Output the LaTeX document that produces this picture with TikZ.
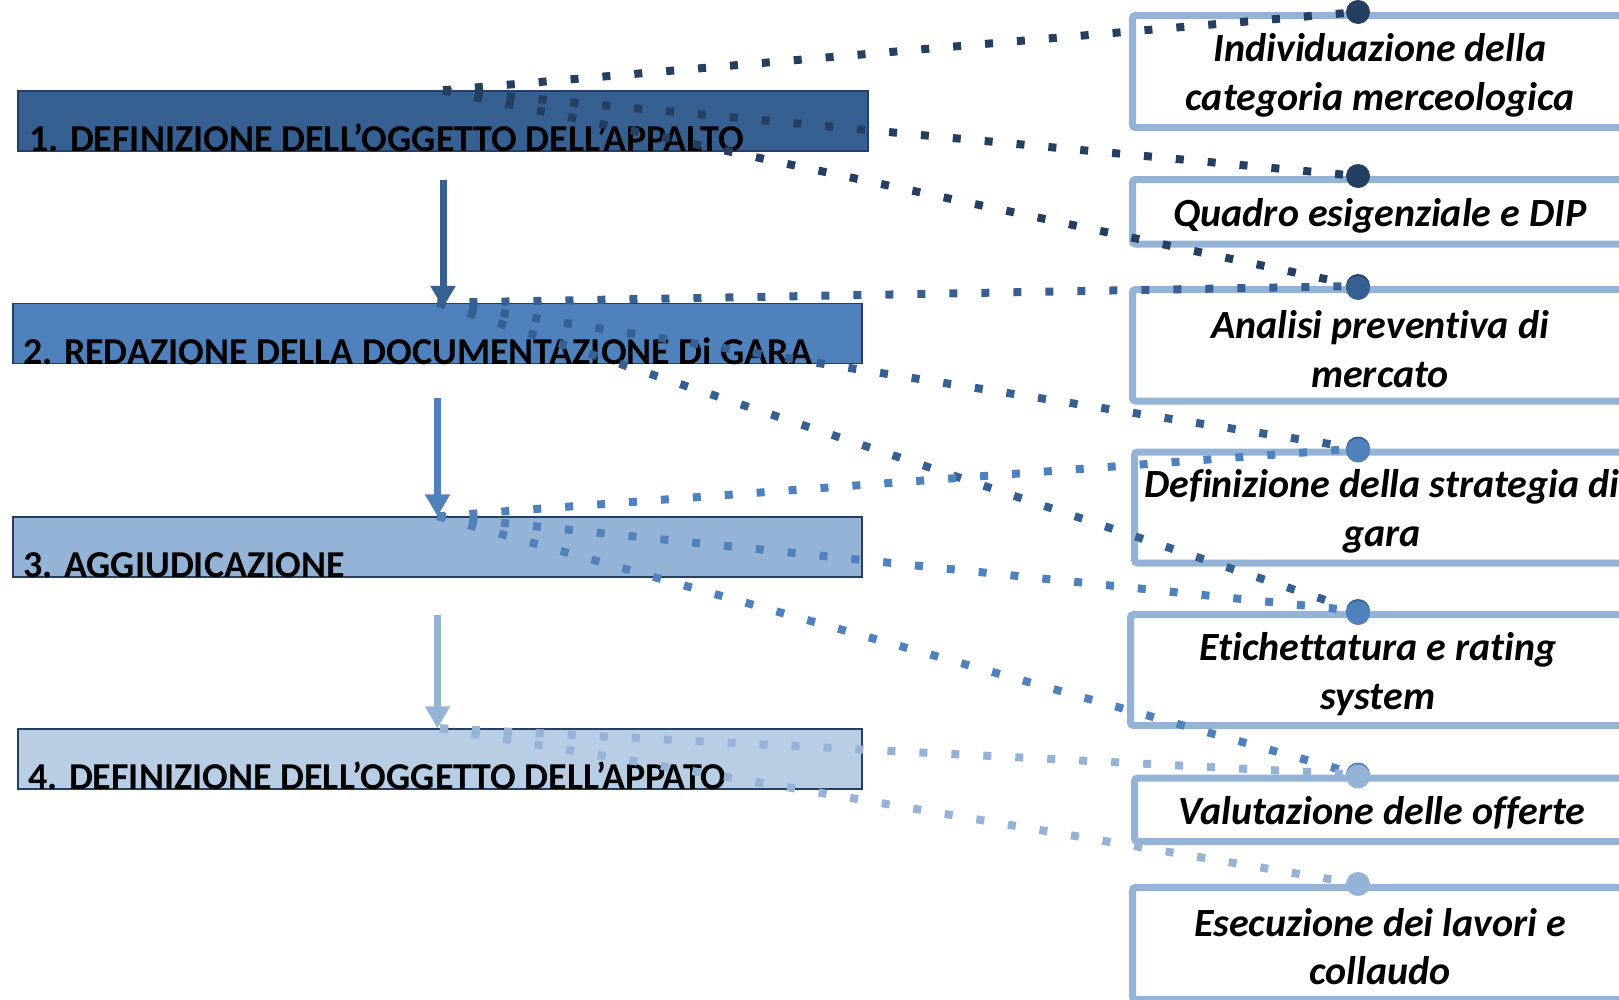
\documentclass[tikz,border=0pt]{standalone}
\usepackage{fontspec}
\setmainfont{Carlito}[Ligatures=NoCommon, RawFeature={-liga;-clig;-dlig;-calt}]
\usetikzlibrary{arrows.meta, positioning}
\definecolor{navyblue}{HTML}{243F60}
\definecolor{darkblue}{HTML}{366092}
\definecolor{midblue}{HTML}{4F81BD}
\definecolor{lightblue}{HTML}{95B3D7}
\definecolor{paleblue}{HTML}{B9CDE5}

\begin{document}
\begin{tikzpicture}[x=1pt, y=-1pt,
  phasebar/.style={draw=navyblue, line width=1.5pt, minimum height=60pt, inner sep=0pt},
  phaselabel/.style={anchor=base west, inner sep=0pt, font=\fontsize{38}{42}\selectfont\bfseries},
  taskbox/.style={draw=lightblue, line width=7pt, rounded corners=3pt, minimum width=495pt, inner sep=0pt},
  tasktext/.style={align=center, inner sep=0pt, font=\fontsize{40}{48.5}\selectfont\bfseries\itshape},
  link/.style={line width=8pt, dash pattern=on 8pt off 24pt},
  flow/.style={line width=7pt, -{Triangle[width=24pt, length=22pt]}}
]
  \useasboundingbox (0,0) rectangle (1619,999);
  \clip (0,0) rectangle (1619,999);

  % Phases on the left
  \node[phasebar, fill=darkblue, minimum width=850pt] (bar1) at (443,121) {};
  \node[phasebar, fill=midblue, minimum width=849pt] (bar2) at (437.5,333.5) {};
  \node[phasebar, fill=lightblue, minimum width=849pt] (bar3) at (437.5,547) {};
  \node[phasebar, fill=paleblue, minimum width=844pt] (bar4) at (440,759) {};
  \node[phaselabel] (lab1) at (29,151) {1. DEFINIZIONE DELL’OGGETTO DELL’APPALTO};
  \node[phaselabel] (lab2) at (23,364) {2. REDAZIONE DELLA DOCUMENTAZIONE Di GARA};
  \node[phaselabel] (lab3) at (23,577) {3. AGGIUDICAZIONE};
  \node[phaselabel] (lab4) at (28,789) {4. DEFINIZIONE DELL’OGGETTO DELL’APPATO};

  % Activities on the right
  \node[taskbox, minimum height=112pt] (task1) at (1380,71.5) {};
  \node[taskbox, minimum height=64.5pt] (task2) at (1380,211.75) {};
  \node[taskbox, minimum height=111.5pt] (task3) at (1380,345.25) {};
  \node[taskbox, minimum height=111pt] (task4) at (1382,507.5) {};
  \node[taskbox, minimum height=111pt] (task5) at (1378,670) {};
  \node[taskbox, minimum height=63.5pt] (task6) at (1382,809.75) {};
  \node[taskbox, minimum height=112pt] (task7) at (1380,943.5) {};
  \node[tasktext] (txt1) at ([yshift=-4pt]task1.center) {Individuazione della\\categoria merceologica};
  \node[tasktext] (txt2) at ([yshift=-4pt]task2.center) {Quadro esigenziale e DIP};
  \node[tasktext] (txt3) at ([yshift=-4pt]task3.center) {Analisi preventiva di\\mercato};
  \node[tasktext] (txt4) at ([yshift=-4pt]task4.center) {Definizione della strategia di\\gara};
  \node[tasktext] (txt5) at ([yshift=-4pt]task5.center) {Etichettatura e rating\\system};
  \node[tasktext] (txt6) at ([yshift=-3pt]task6.center) {Valutazione delle offerte};
  \node[tasktext] (txt7) at ([yshift=-3pt]task7.center) {Esecuzione dei lavori e\\collaudo};

  \coordinate (dot1) at ([xshift=-22pt]task1.north);
  \coordinate (dot2) at ([xshift=-22pt]task2.north);
  \coordinate (dot3) at ([xshift=-22pt]task3.north);
  \coordinate (dot4) at ([xshift=-24pt]task4.north);
  \coordinate (dot5) at ([xshift=-20pt]task5.north);
  \coordinate (dot6) at ([xshift=-24pt]task6.north);
  \coordinate (dot7) at ([xshift=-22pt]task7.north);

  % Dotted links
  \draw[link, navyblue] (bar1.north) -- (dot1);
  \draw[link, navyblue] (bar1.north) -- (dot2);
  \draw[link, navyblue] (bar1.north) -- (dot3);
  \draw[link, darkblue] (bar2.north) -- (dot3);
  \draw[link, darkblue] (bar2.north) -- (dot4);
  \draw[link, darkblue] (bar2.north) -- (dot5);
  \draw[link, midblue] (bar3.north) -- (dot4);
  \draw[link, midblue] (bar3.north) -- (dot5);
  \draw[link, midblue] (bar3.north) -- (dot6);
  \draw[link, lightblue] (bar4.north) -- (dot6);
  \draw[link, lightblue] (bar4.north) -- (dot7);

  \fill[navyblue] (dot1) circle (12);
  \fill[navyblue] (dot2) circle (12);
  \fill[navyblue] (dot3) circle (12);
  \fill[darkblue] ([yshift=-2pt]dot3) circle (12);
  \fill[darkblue] (dot4) circle (12);
  \fill[darkblue] (dot5) circle (12);
  \fill[midblue] ([yshift=-2pt]dot4) circle (12);
  \fill[midblue] ([yshift=-2pt]dot5) circle (12);
  \fill[midblue] (dot6) circle (12);
  \fill[lightblue] ([yshift=-2pt]dot6) circle (12);
  \fill[lightblue] (dot7) circle (12);

  % Flow between phases
  \draw[flow, darkblue] ([yshift=-28pt]bar1.south) -- ([yshift=-5pt]bar1.south |- bar2.north);
  \draw[flow, midblue] ([yshift=-34pt]bar2.south) -- (bar2.south |- bar3.north);
  \draw[flow, lightblue] ([yshift=-37pt]bar3.south) -- (bar3.south |- bar4.north);
\end{tikzpicture}
\end{document}
